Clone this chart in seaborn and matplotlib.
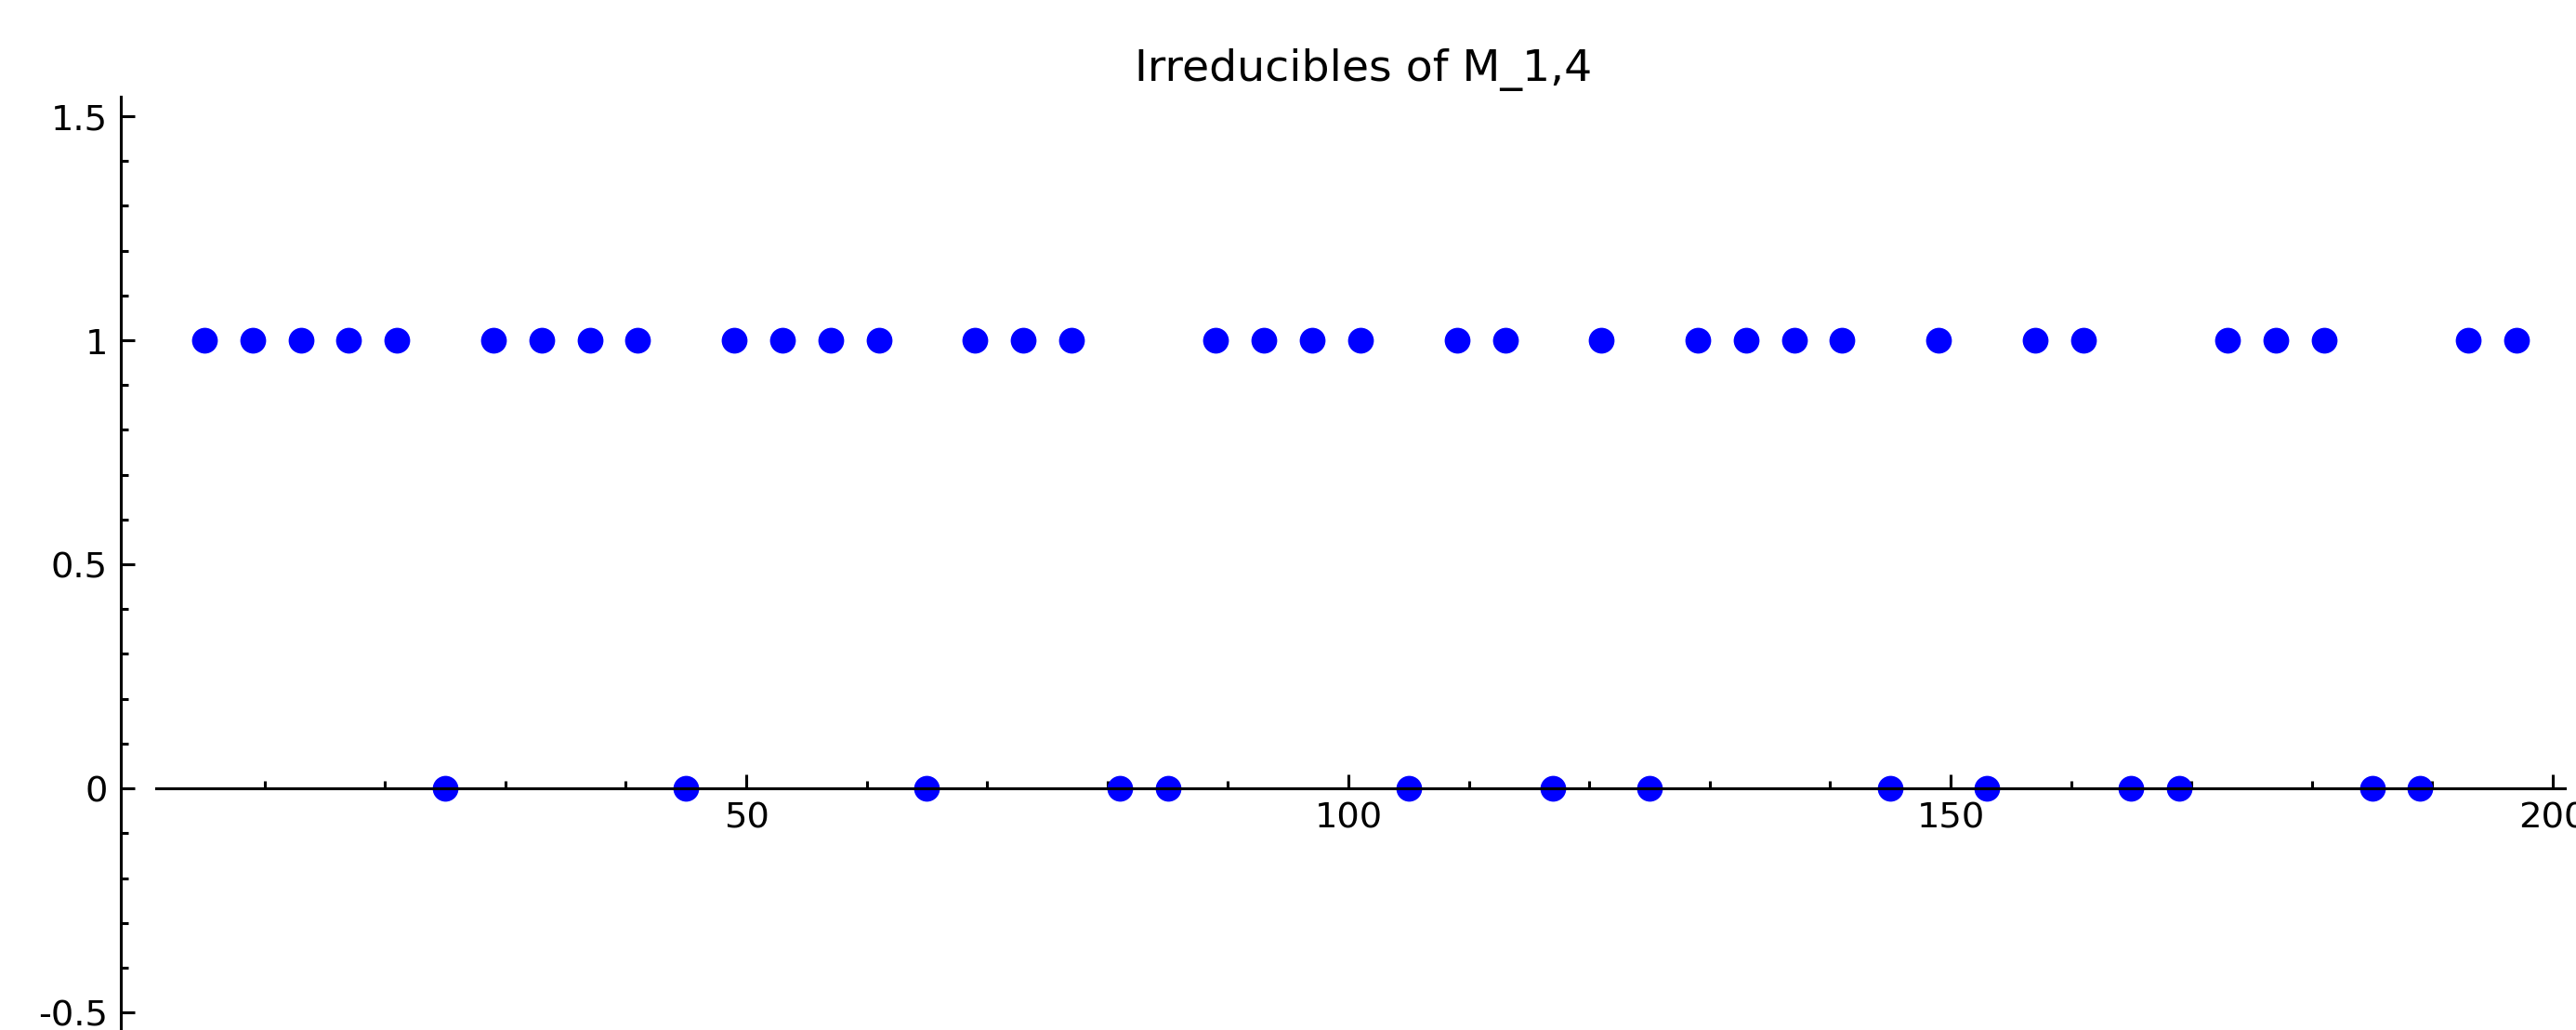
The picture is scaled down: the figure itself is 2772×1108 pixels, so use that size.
import matplotlib
matplotlib.use("Agg")
import matplotlib.pyplot as plt
from matplotlib.ticker import MultipleLocator, FuncFormatter
import seaborn as sns
import pandas as pd

x_vals = [5, 9, 13, 17, 21, 25, 29, 33, 37, 41, 45, 49, 53, 57, 61, 65, 69, 73, 77,
          81, 85, 89, 93, 97, 101, 105, 109, 113, 117, 121, 125, 129, 133, 137, 141,
          145, 149, 153, 157, 161, 165, 169, 173, 177, 181, 185, 189, 193, 197]
y_vals = [1, 1, 1, 1, 1, 0, 1, 1, 1, 1, 0, 1, 1, 1, 1, 0, 1, 1, 1,
          0, 0, 1, 1, 1, 1, 0, 1, 1, 0, 1, 0, 1, 1, 1, 1,
          0, 1, 0, 1, 1, 0, 0, 1, 1, 1, 0, 0, 1, 1]
title_text = "Irreducibles of M_1,4"

sns.set_style("white")
plt.rcParams["font.family"] = ["DejaVu Sans"]
plt.rcParams["axes.unicode_minus"] = False
plt.rcParams["text.color"] = "black"

df = pd.DataFrame({"x": x_vals, "y": y_vals})

fig = plt.figure(figsize=(10, 4), dpi=277.2)
ax = fig.add_axes([168 / 2772, 1 - 1114.3 / 1109, (2760 - 168) / 2772, (1114.3 - 105) / 1109])

sns.scatterplot(data=df, x="x", y="y", ax=ax, color=(0, 0, 1), s=52, linewidth=0, zorder=1)

ax.set_xlim(1, 201)
ax.set_ylim(-0.55, 1.543)
ax.set_xlabel("")
ax.set_ylabel("")

for side in ["top", "right"]:
    ax.spines[side].set_visible(False)
ax.spines["bottom"].set_position(("data", 0))
ax.spines["left"].set_position(("outward", 10))
for side in ["bottom", "left"]:
    ax.spines[side].set_color("black")
    ax.spines[side].set_linewidth(0.8)
    ax.spines[side].set_zorder(3)

ax.xaxis.set_major_locator(MultipleLocator(50))
ax.xaxis.set_minor_locator(MultipleLocator(10))
ax.yaxis.set_major_locator(MultipleLocator(0.5))
ax.yaxis.set_minor_locator(MultipleLocator(0.1))
fmt = FuncFormatter(lambda v, p: f"{v:g}")
ax.xaxis.set_major_formatter(fmt)
ax.yaxis.set_major_formatter(fmt)

ax.tick_params(axis="both", which="major", direction="in", length=4, width=0.8,
               color="black", labelsize=10, labelcolor="black", pad=3.5)
ax.tick_params(axis="both", which="minor", direction="in", length=2, width=0.8, color="black")
ax.tick_params(axis="x", which="both", bottom=True, top=False)
ax.tick_params(axis="y", which="both", left=True, right=False)

fig.text(1466.7 / 2772, 1 - 86.7 / 1109, title_text, ha="center", va="baseline",
         fontsize=12.3, color="black")

fig.savefig("out.png", dpi=277.2)
